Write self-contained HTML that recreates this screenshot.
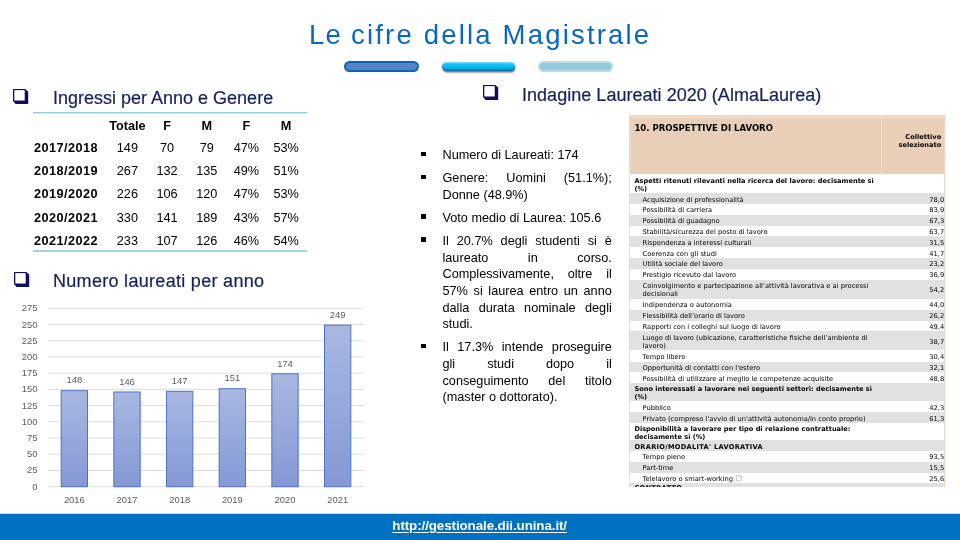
<!DOCTYPE html>
<html lang="it">
<head>
<meta charset="utf-8">
<title>Le cifre della Magistrale</title>
<style>
html,body{margin:0;padding:0;background:#fff;}
body{width:960px;height:540px;overflow:hidden;position:relative;font-family:"Liberation Sans",sans-serif;color:#000;}
.abs{position:absolute;white-space:nowrap;}
#title{left:309px;top:18.5px;font-size:27.5px;line-height:32px;color:#0868c0;letter-spacing:2.19px;}
#title span{letter-spacing:1.25px;}
.pill{position:absolute;box-sizing:border-box;border-radius:6px;}
#p1{left:344.4px;top:61.3px;width:74.8px;height:10.6px;background:#5585c1;border:2px solid #0a64be;}
#p2{left:441.5px;top:62px;width:73.5px;height:9.4px;background:linear-gradient(#58d6fc,#12c2f6 30%,#00b2ee 65%,#0a93c8);box-shadow:inset 0 -1.5px 1px rgba(0,70,120,.5),inset 0 1px 1px rgba(255,255,255,.25),0.5px 1.6px 1.6px rgba(0,0,0,.55);}
#p3{left:538.3px;top:61.3px;width:74.6px;height:10.8px;background:#93cbdc;border:2px solid #b6dde9;}
.h{font-size:18px;line-height:22px;color:#15215f;-webkit-text-stroke:0.2px #15215f;}
.cb{position:absolute;width:16px;height:16px;}
.rule{position:absolute;left:33px;width:273.5px;height:2px;background:#a0d4e2;}
#r1{background:linear-gradient(#93cddc 0,#93cddc 1px,#d4ecf2 1px,#d4ecf2 2px);}
#tbl{position:absolute;left:34px;top:114px;border-collapse:collapse;font-size:12.7px;table-layout:fixed;width:272px;}
#tbl th,#tbl td{padding:0;height:23.13px;line-height:23.13px;text-align:center;font-weight:normal;width:39.7px;white-space:nowrap;}
#tbl th{font-weight:bold;}
#tbl th.y{text-align:left;width:73.5px;letter-spacing:0.45px;}
#tbl tr:first-child th{position:relative;top:0.8px;}
.ax{font-family:"Liberation Sans",sans-serif;font-size:9.85px;fill:#5c5c5c;}
#bul{position:absolute;left:442.5px;top:147.3px;width:169.3px;margin:0;padding:0;list-style:none;font-size:12.7px;line-height:16.7px;}
#bul li{position:relative;margin:0 0 6.25px 0;}
#bul li:before{content:"";position:absolute;left:-21.3px;top:4.4px;width:4.5px;height:4.5px;background:#000;}
#bul span{display:block;white-space:nowrap;}
#bul span.j{text-align:justify;text-align-last:justify;white-space:normal;}
#al{position:absolute;left:629px;top:115px;width:316.8px;height:371.6px;overflow:hidden;background:#f1d8c3;font-family:"DejaVu Sans",sans-serif;font-size:6.7px;line-height:8px;color:#000;}
#al .hd{position:absolute;left:1.6px;top:2px;right:1.6px;height:57.4px;background:#e9cfb8;box-shadow:inset 0 1px 0 #e9e1d1;}
#al .hd .t{position:absolute;left:3.8px;top:6.2px;font-size:8.5px;font-weight:bold;line-height:10px;white-space:nowrap;}
#al .hd .c{position:absolute;right:3px;top:16px;text-align:right;font-weight:bold;line-height:8px;font-size:6.62px;}
#al .hd:after{content:"";position:absolute;left:250px;top:0;width:1px;height:100%;background:#eadfcd;}
#al:after{content:"";position:absolute;right:0;top:0;width:1px;height:100%;background:rgba(255,255,255,.5);z-index:5;}
#al .r{position:absolute;left:1.3px;right:1.6px;overflow:hidden;}
#al .g{background:#e1e1e1;}
#al .w{background:#fff;}
#al .l{position:absolute;left:12.3px;top:50%;margin-top:0.6px;transform:translateY(-50%);white-space:nowrap;}
#al .s .l{left:4.1px;font-weight:bold;font-size:6.62px;}
#al .u .l{letter-spacing:0.31px;}
#al .r:last-child .l{margin-top:-1.4px;}
#al .ic{display:inline-block;vertical-align:-0.6px;margin-left:3px;width:6px;height:6.4px;}
#al .v{position:absolute;right:0px;top:50%;margin-top:0.6px;transform:translateY(-50%);}
#footer{position:absolute;left:0;top:514px;width:960px;height:26px;background:#0070c0;box-shadow:0 -0.5px 0 rgba(0,112,192,.45);}
#url{left:392.3px;top:516.7px;font-size:13.4px;line-height:18px;color:#fff;font-weight:bold;letter-spacing:-0.1px;text-decoration:underline;text-decoration-thickness:1px;text-underline-offset:2.4px;}
</style>
</head>
<body>
<div id="title" class="abs"><span>Le </span>cifre della Magistrale</div>
<div id="p1" class="pill"></div><div id="p2" class="pill"></div><div id="p3" class="pill"></div>

<svg class="cb" style="left:13.4px;top:89px" viewBox="0 0 16 16"><path d="M0,0H12.3L15.2,2.6V15H2.6L0,12Z" fill="#10105a"/><rect x="1.3" y="1.1" width="10.4" height="10.4" fill="#fff"/></svg>
<div class="abs h" id="h1" style="left:53px;top:87px">Ingressi per Anno e Genere</div>
<div class="rule" id="r1" style="top:112px"></div>
<table id="tbl">
<tr><th class="y"></th><th>Totale</th><th>F</th><th>M</th><th>F</th><th>M</th></tr>
<tr><th class="y">2017/2018</th><td>149</td><td>70</td><td>79</td><td>47%</td><td>53%</td></tr>
<tr><th class="y">2018/2019</th><td>267</td><td>132</td><td>135</td><td>49%</td><td>51%</td></tr>
<tr><th class="y">2019/2020</th><td>226</td><td>106</td><td>120</td><td>47%</td><td>53%</td></tr>
<tr><th class="y">2020/2021</th><td>330</td><td>141</td><td>189</td><td>43%</td><td>57%</td></tr>
<tr><th class="y">2021/2022</th><td>233</td><td>107</td><td>126</td><td>46%</td><td>54%</td></tr>
</table>
<div class="rule" style="top:250px"></div>

<svg class="cb" style="left:13.6px;top:272.3px" viewBox="0 0 16 16"><path d="M0,0H12.3L15.2,2.6V15H2.6L0,12Z" fill="#10105a"/><rect x="1.3" y="1.1" width="10.4" height="10.4" fill="#fff"/></svg>
<div class="abs h" id="h2" style="left:53px;top:269.5px;letter-spacing:0.3px">Numero laureati per anno</div>
<svg id="chart" width="400" height="230" viewBox="0 290 400 230" style="position:absolute;left:0;top:290px">
<defs><linearGradient id="bg" x1="0" y1="0" x2="0" y2="1"><stop offset="0" stop-color="#a9b8e1"/><stop offset="1" stop-color="#8598d6"/></linearGradient></defs>
<line x1="48.0" x2="364.0" y1="486.70" y2="486.70" stroke="#dcdcdc" stroke-width="1"/>
<text transform="translate(37.5,489.70) scale(0.955,1)" text-anchor="end" class="ax">0</text>
<line x1="48.0" x2="364.0" y1="470.48" y2="470.48" stroke="#dcdcdc" stroke-width="1"/>
<text transform="translate(37.5,473.48) scale(0.955,1)" text-anchor="end" class="ax">25</text>
<line x1="48.0" x2="364.0" y1="454.26" y2="454.26" stroke="#dcdcdc" stroke-width="1"/>
<text transform="translate(37.5,457.26) scale(0.955,1)" text-anchor="end" class="ax">50</text>
<line x1="48.0" x2="364.0" y1="438.04" y2="438.04" stroke="#dcdcdc" stroke-width="1"/>
<text transform="translate(37.5,441.04) scale(0.955,1)" text-anchor="end" class="ax">75</text>
<line x1="48.0" x2="364.0" y1="421.82" y2="421.82" stroke="#dcdcdc" stroke-width="1"/>
<text transform="translate(37.5,424.82) scale(0.955,1)" text-anchor="end" class="ax">100</text>
<line x1="48.0" x2="364.0" y1="405.60" y2="405.60" stroke="#dcdcdc" stroke-width="1"/>
<text transform="translate(37.5,408.60) scale(0.955,1)" text-anchor="end" class="ax">125</text>
<line x1="48.0" x2="364.0" y1="389.38" y2="389.38" stroke="#dcdcdc" stroke-width="1"/>
<text transform="translate(37.5,392.38) scale(0.955,1)" text-anchor="end" class="ax">150</text>
<line x1="48.0" x2="364.0" y1="373.16" y2="373.16" stroke="#dcdcdc" stroke-width="1"/>
<text transform="translate(37.5,376.16) scale(0.955,1)" text-anchor="end" class="ax">175</text>
<line x1="48.0" x2="364.0" y1="356.94" y2="356.94" stroke="#dcdcdc" stroke-width="1"/>
<text transform="translate(37.5,359.94) scale(0.955,1)" text-anchor="end" class="ax">200</text>
<line x1="48.0" x2="364.0" y1="340.72" y2="340.72" stroke="#dcdcdc" stroke-width="1"/>
<text transform="translate(37.5,343.72) scale(0.955,1)" text-anchor="end" class="ax">225</text>
<line x1="48.0" x2="364.0" y1="324.50" y2="324.50" stroke="#dcdcdc" stroke-width="1"/>
<text transform="translate(37.5,327.50) scale(0.955,1)" text-anchor="end" class="ax">250</text>
<line x1="48.0" x2="364.0" y1="308.28" y2="308.28" stroke="#dcdcdc" stroke-width="1"/>
<text transform="translate(37.5,311.28) scale(0.955,1)" text-anchor="end" class="ax">275</text>
<rect x="61.17" y="390.68" width="26.33" height="96.02" fill="url(#bg)" stroke="#4a72c8" stroke-width="1"/>
<text transform="translate(74.33,383.38) scale(0.955,1)" text-anchor="middle" class="ax">148</text>
<text transform="translate(74.33,503.30) scale(0.955,1)" text-anchor="middle" class="ax">2016</text>
<rect x="113.83" y="391.98" width="26.33" height="94.72" fill="url(#bg)" stroke="#4a72c8" stroke-width="1"/>
<text transform="translate(127.00,384.68) scale(0.955,1)" text-anchor="middle" class="ax">146</text>
<text transform="translate(127.00,503.30) scale(0.955,1)" text-anchor="middle" class="ax">2017</text>
<rect x="166.50" y="391.33" width="26.33" height="95.37" fill="url(#bg)" stroke="#4a72c8" stroke-width="1"/>
<text transform="translate(179.67,384.03) scale(0.955,1)" text-anchor="middle" class="ax">147</text>
<text transform="translate(179.67,503.30) scale(0.955,1)" text-anchor="middle" class="ax">2018</text>
<rect x="219.17" y="388.73" width="26.33" height="97.97" fill="url(#bg)" stroke="#4a72c8" stroke-width="1"/>
<text transform="translate(232.33,381.43) scale(0.955,1)" text-anchor="middle" class="ax">151</text>
<text transform="translate(232.33,503.30) scale(0.955,1)" text-anchor="middle" class="ax">2019</text>
<rect x="271.83" y="373.81" width="26.33" height="112.89" fill="url(#bg)" stroke="#4a72c8" stroke-width="1"/>
<text transform="translate(285.00,366.51) scale(0.955,1)" text-anchor="middle" class="ax">174</text>
<text transform="translate(285.00,503.30) scale(0.955,1)" text-anchor="middle" class="ax">2020</text>
<rect x="324.50" y="325.15" width="26.33" height="161.55" fill="url(#bg)" stroke="#4a72c8" stroke-width="1"/>
<text transform="translate(337.67,317.85) scale(0.955,1)" text-anchor="middle" class="ax">249</text>
<text transform="translate(337.67,503.30) scale(0.955,1)" text-anchor="middle" class="ax">2021</text>
</svg>

<svg class="cb" style="left:483px;top:85.3px" viewBox="0 0 16 16"><path d="M0,0H12.3L15.2,2.6V15H2.6L0,12Z" fill="#10105a"/><rect x="1.3" y="1.1" width="10.4" height="10.4" fill="#fff"/></svg>
<div class="abs h" id="h3" style="left:522px;top:83.5px;letter-spacing:0.03px">Indagine Laureati 2020 (AlmaLaurea)</div>
<ul id="bul">
<li><span class="l">Numero di Laureati: 174</span></li>
<li><span class="j">Genere: Uomini (51.1%);</span><span class="l">Donne (48.9%)</span></li>
<li><span class="l">Voto medio di Laurea: 105.6</span></li>
<li><span class="j">Il 20.7% degli studenti si è</span><span class="j">laureato in corso.</span><span class="j">Complessivamente, oltre il</span><span class="j">57% si laurea entro un anno</span><span class="j">dalla durata nominale degli</span><span class="l">studi.</span></li>
<li><span class="j">Il 17.3% intende proseguire</span><span class="j">gli studi dopo il</span><span class="j">conseguimento del titolo</span><span class="l">(master o dottorato).</span></li>
</ul>
<div id="al">
<div class="hd"><div class="t">10. PROSPETTIVE DI LAVORO</div><div class="c">Collettivo<br>selezionato</div></div>
<div class="r w s" style="top:59.4px;height:19.8px"><div class="l">Aspetti ritenuti rilevanti nella ricerca del lavoro: decisamente sì<br>(%)</div></div>
<div class="r g r" style="top:78.2px;height:11.7px"><div class="l">Acquisizione di professionalità</div><div class="v">78,0</div></div>
<div class="r w r" style="top:88.9px;height:11.8px"><div class="l">Possibilità di carriera</div><div class="v">83,9</div></div>
<div class="r g r" style="top:99.7px;height:11.8px"><div class="l">Possibilità di guadagno</div><div class="v">67,3</div></div>
<div class="r w r" style="top:110.5px;height:11.8px"><div class="l">Stabilità/sicurezza del posto di lavoro</div><div class="v">63,7</div></div>
<div class="r g r" style="top:121.3px;height:11.8px"><div class="l">Rispondenza a interessi culturali</div><div class="v">31,5</div></div>
<div class="r w r" style="top:132.1px;height:11.8px"><div class="l">Coerenza con gli studi</div><div class="v">41,7</div></div>
<div class="r g r" style="top:142.9px;height:11.9px"><div class="l">Utilità sociale del lavoro</div><div class="v">23,2</div></div>
<div class="r w r" style="top:153.8px;height:12.0px"><div class="l">Prestigio ricevuto dal lavoro</div><div class="v">36,9</div></div>
<div class="r g r" style="top:164.8px;height:20.0px"><div class="l">Coinvolgimento e partecipazione all’attività lavorativa e ai processi<br>decisionali</div><div class="v">54,2</div></div>
<div class="r w r" style="top:183.8px;height:11.8px"><div class="l">Indipendenza o autonomia</div><div class="v">44,0</div></div>
<div class="r g r" style="top:194.6px;height:12.0px"><div class="l">Flessibilità dell’orario di lavoro</div><div class="v">26,2</div></div>
<div class="r w r" style="top:205.6px;height:11.6px"><div class="l">Rapporti con i colleghi sul luogo di lavoro</div><div class="v">49,4</div></div>
<div class="r g r" style="top:216.2px;height:20.2px"><div class="l">Luogo di lavoro (ubicazione, caratteristiche fisiche dell’ambiente di<br>lavoro)</div><div class="v">38,7</div></div>
<div class="r w r" style="top:235.4px;height:12.1px"><div class="l">Tempo libero</div><div class="v">30,4</div></div>
<div class="r g r" style="top:246.5px;height:11.7px"><div class="l">Opportunità di contatti con l'estero</div><div class="v">32,1</div></div>
<div class="r w r" style="top:257.2px;height:12.0px"><div class="l">Possibilità di utilizzare al meglio le competenze acquisite</div><div class="v">48,8</div></div>
<div class="r g s" style="top:268.2px;height:18.8px"><div class="l">Sono interessati a lavorare nei seguenti settori: decisamente sì<br>(%)</div></div>
<div class="r w r" style="top:286.0px;height:12.2px"><div class="l">Pubblico</div><div class="v">42,3</div></div>
<div class="r g r" style="top:297.2px;height:11.6px"><div class="l">Privato (compreso l'avvio di un'attività autonoma/in conto proprio)</div><div class="v">61,3</div></div>
<div class="r w s" style="top:307.8px;height:18.3px"><div class="l">Disponibilità a lavorare per tipo di relazione contrattuale:<br>decisamente sì (%)</div></div>
<div class="r g s u" style="top:325.1px;height:11.9px"><div class="l">ORARIO/MODALITA' LAVORATIVA</div></div>
<div class="r w r" style="top:336.0px;height:11.8px"><div class="l">Tempo pieno</div><div class="v">93,5</div></div>
<div class="r g r" style="top:346.8px;height:11.9px"><div class="l">Part-time</div><div class="v">15,5</div></div>
<div class="r w r" style="top:357.7px;height:11.5px"><div class="l">Telelavoro o smart-working<svg class="ic" viewBox="0 0 6 6.4"><path d="M0.5,0.5H3.8L5.5,2.2V5.9H0.5Z" fill="#fafafa" stroke="#bdbdbd" stroke-width="0.8"/><path d="M3.8,0.5V2.2H5.5" fill="none" stroke="#bdbdbd" stroke-width="0.7"/></svg></div><div class="v">25,6</div></div>
<div class="r g s u" style="top:368.2px;height:11.8px"><div class="l">CONTRATTO</div></div>
</div>

<div id="footer"></div>
<div id="url" class="abs">http://gestionale.dii.unina.it/</div>
</body>
</html>
